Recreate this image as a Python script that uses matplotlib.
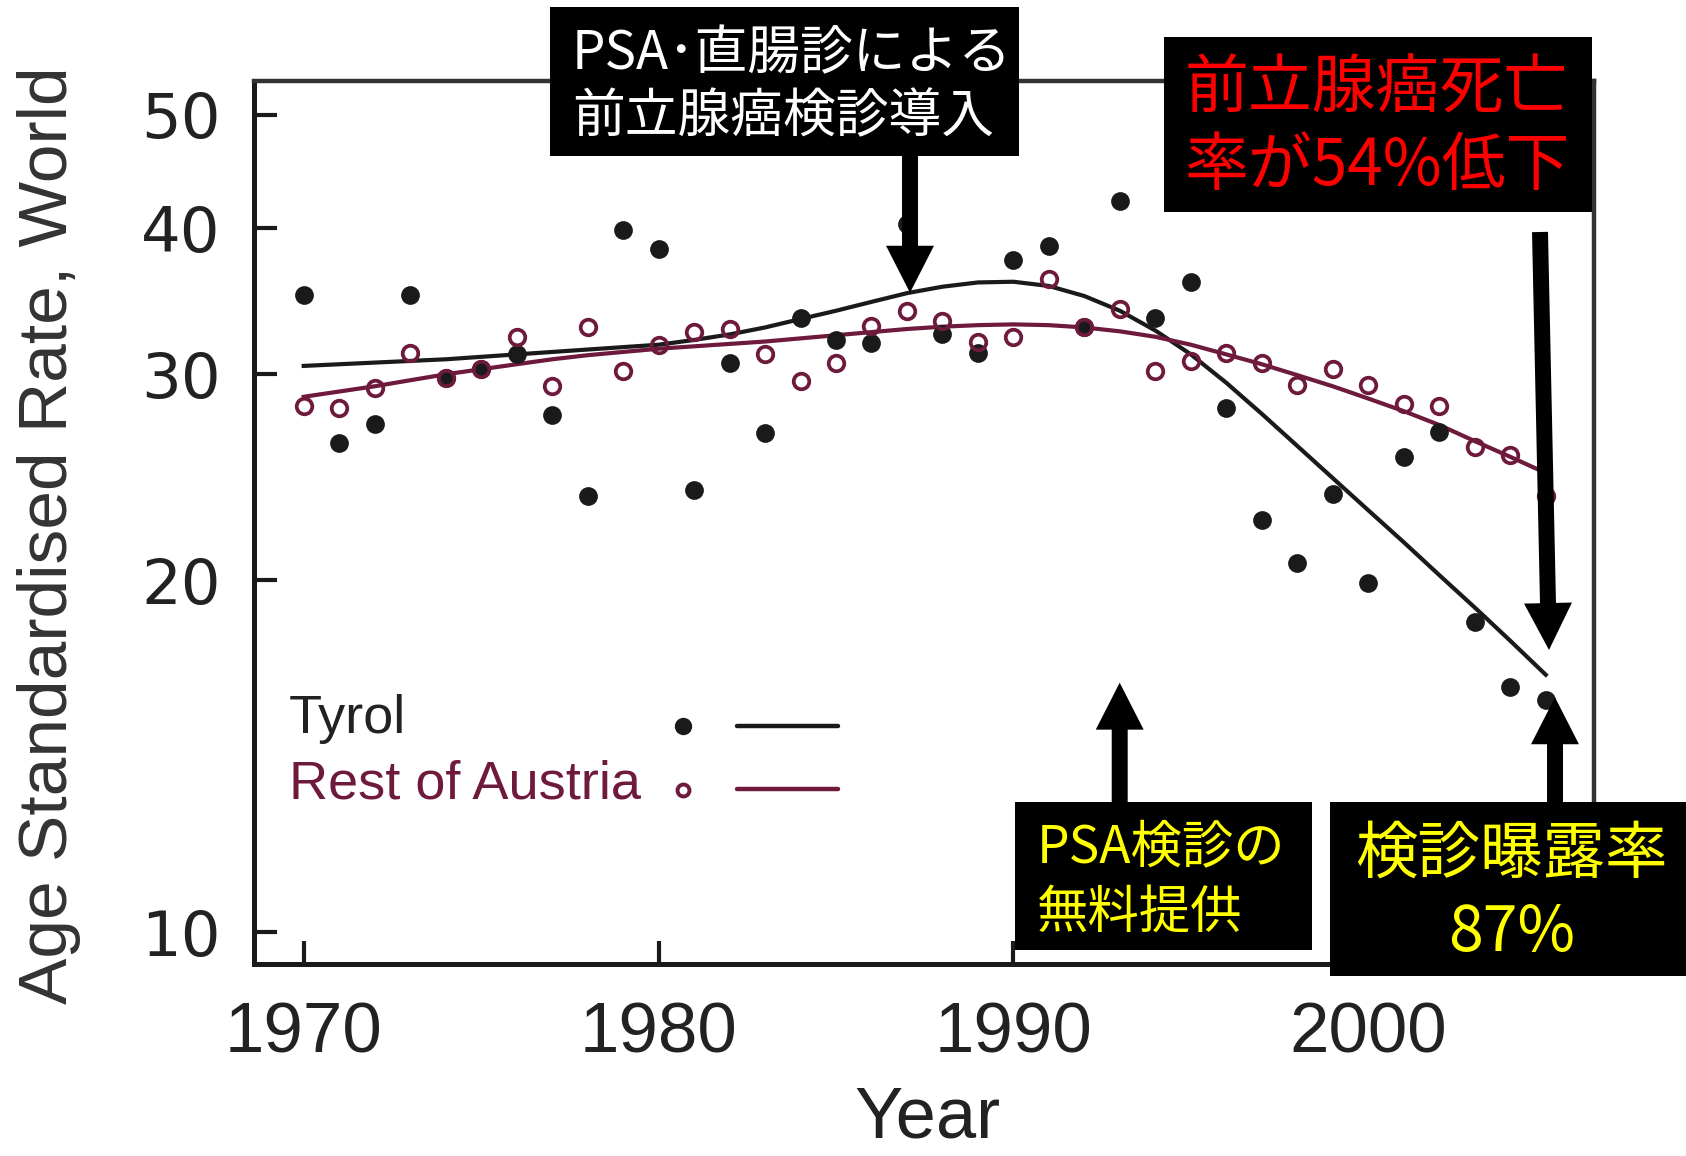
import numpy as np
import matplotlib.pyplot as plt
from matplotlib.patches import Rectangle
from matplotlib.ticker import FixedLocator, FixedFormatter, NullLocator

W, H = 1686, 1156
maroon = '#6e1a3c'
dark = '#1a1a1a'
cjk = ['Noto Sans CJK JP', 'DejaVu Sans']

## data
years = np.arange(1970, 2006)
tyrol = [35.1, 26.2, 27.2, 35.1, 29.8, 30.3, 31.2, 27.7, 23.6, 39.9,
         38.4, 23.9, 30.7, 26.7, 33.5, 32.1, 31.9, 40.3, 32.5, 31.3,
         37.6, 38.6, 32.9, 42.2, 33.5, 36.0, 28.1, 22.5, 20.7, 23.7,
         19.9, 25.5, 26.8, 18.4, 16.2, 15.8]
rest = [28.2, 28.1, 29.2, 31.3, 29.8, 30.3, 32.3, 29.3, 32.9, 30.2,
        31.8, 32.6, 32.8, 31.2, 29.6, 30.7, 33.0, 34.0, 33.3, 32.0,
        32.3, 36.2, 32.9, 34.1, 30.2, 30.8, 31.3, 30.7, 29.4, 30.3,
        29.4, 28.3, 28.2, 26.0, 25.6, 23.6]
tyrol_fit = [30.5, 30.6, 30.7, 30.8, 30.9, 31.05, 31.2, 31.35, 31.5, 31.65,
             31.8, 32.1, 32.45, 32.9, 33.45, 34.0, 34.6, 35.2, 35.65, 35.95,
             36.0, 35.7, 35.0, 34.0, 32.7, 31.2, 29.5, 27.75, 26.05, 24.45,
             22.95, 21.55, 20.2, 18.95, 17.75, 16.6]
rest_fit = [28.7, 29.0, 29.3, 29.65, 30.0, 30.3, 30.6, 30.9, 31.15, 31.35,
            31.55, 31.7, 31.85, 32.0, 32.2, 32.4, 32.6, 32.8, 32.95, 33.05,
            33.1, 33.05, 32.9, 32.65, 32.3, 31.8, 31.2, 30.6, 29.95, 29.3,
            28.6, 27.9, 27.15, 26.3, 25.5, 24.7]
xticks = [1970, 1980, 1990, 2000]
yticks = [10, 20, 30, 40, 50]

plt.rcParams['font.family'] = ['Liberation Sans', 'DejaVu Sans']

fig = plt.figure(figsize=(W / 100, H / 100), dpi=100)
ax = fig.add_axes([254 / W, 1 - 964 / H, 1340 / W, 883 / H])
ax.set_yscale('log')

ax.plot(years, tyrol_fit, color=dark, lw=3.0, zorder=2)
ax.plot(years, rest_fit, color=maroon, lw=3.0, zorder=2)
ax.plot(years, tyrol, 'o', ms=13.5, color=dark, mew=0, zorder=3)
ax.plot(years, rest, 'o', ms=11.2, mfc='none', mec=maroon, mew=2.7, zorder=4)

ax.set_xlim(1968.6, 2006.36)
ax.set_ylim(9.39, 53.46)
ax.yaxis.set_major_locator(FixedLocator(yticks))
ax.yaxis.set_major_formatter(FixedFormatter([str(v) for v in yticks]))
ax.yaxis.set_minor_locator(NullLocator())
ax.set_xticks(xticks)
ax.tick_params(direction='in', length=16.5, width=3, color=dark, labelcolor='#222222')
ax.tick_params(axis='y', pad=24, labelsize=45, labelfontfamily='DejaVu Sans')
ax.tick_params(axis='x', pad=27, labelsize=51)

for side in ['left', 'bottom']:
    ax.spines[side].set_linewidth(3.6)
    ax.spines[side].set_color(dark)
for side in ['top', 'right']:
    ax.spines[side].set_linewidth(3.2)
    ax.spines[side].set_color('#333333')

# legend drawn by hand (labels left, keys right)
ax.text(0.0261, 0.2613, 'Tyrol', transform=ax.transAxes, fontsize=39,
        color='#222222', va='baseline')
ax.text(0.0261, 0.1877, 'Rest of Austria', transform=ax.transAxes, fontsize=39,
        color=maroon, va='baseline')
ax.plot([0.3199], [0.2695], 'o', ms=12.5, color=dark, mew=0, transform=ax.transAxes)
ax.plot([0.3199], [0.1971], 'o', ms=8.6, mfc='none', mec=maroon, mew=2.8,
        transform=ax.transAxes)
ax.plot([0.3602, 0.4361], [0.2695, 0.2695], color=dark, lw=3.2,
        solid_capstyle='round', transform=ax.transAxes)
ax.plot([0.3602, 0.4361], [0.1979, 0.1979], color=maroon, lw=3.2,
        solid_capstyle='round', transform=ax.transAxes)

fig.text(49 / W, 1 - 535 / H, 'Age Standardised Rate, World', rotation=90,
         ha='center', va='center', fontsize=50, color='#333333')
fig.text(927 / W, 3 / H, 'Year', ha='center', va='bottom',
         fontsize=52, color='#222222')


def box(x0, y0, x1, y1):
    fig.add_artist(Rectangle((x0 / W, 1 - y1 / H), (x1 - x0) / W, (y1 - y0) / H,
                             transform=fig.transFigure, fc='black', ec='none', zorder=5))


def label(x, y, s, size, color, ha='left'):
    fig.text(x / W, 1 - y / H, s, ha=ha, va='center', fontsize=size,
             color=color, family=cjk, zorder=6)


def arrow(tail, tip):
    ax.annotate('', xy=(tip[0], H - tip[1]), xycoords='figure pixels',
                xytext=(tail[0], H - tail[1]), textcoords='figure pixels',
                arrowprops=dict(arrowstyle='simple,head_length=33.8,head_width=34.5,tail_width=11.5',
                                mutation_scale=1, fc='black', ec='none', lw=0,
                                shrinkA=0, shrinkB=0),
                zorder=5)


arrow((910, 150), (910, 292.7))
arrow((1540, 232), (1549, 650))
arrow((1119.7, 805), (1119.7, 682.7))
arrow((1555, 805), (1555, 697.3))

box(550, 7, 1019, 156)
label(572, 54, 'PSA･直腸診による', 38, 'white')
label(572, 117, '前立腺癌検診導入', 38, 'white')

box(1164, 37, 1592, 212)
label(1184.6, 89, '前立腺癌死亡', 46, '#ff0000')
label(1184.6, 166.7, '率が54%低下', 46, '#ff0000')

box(1015, 801.7, 1311.5, 950)
label(1037, 848, 'PSA検診の', 37, '#ffff00')
label(1037, 913, '無料提供', 37, '#ffff00')

box(1330, 801.7, 1686, 976)
label(1511, 855, '検診曝露率', 45, '#ffff00', ha='center')
label(1512, 933, '87%', 45, '#ffff00', ha='center')

fig.savefig('out.png', dpi=100)
